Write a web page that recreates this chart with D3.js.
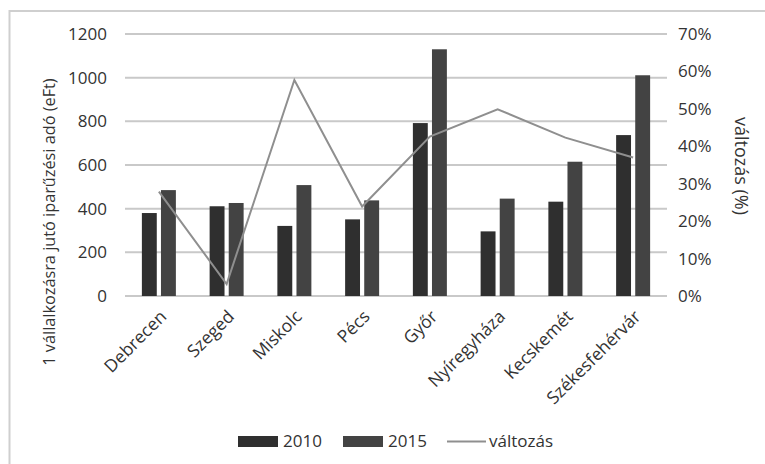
<!DOCTYPE html>
<html>
<head>
<meta charset="utf-8">
<script src="https://cdn.jsdelivr.net/npm/d3@7"></script>
<style>
  html, body { margin: 0; padding: 0; background: #fff; }
  svg { display: block; }
  text { font-family: "Open Sans", sans-serif; fill: #333333; }
</style>
</head>
<body>
<svg id="chart" width="765" height="464"></svg>
<script>
// Cities and per-enterprise local business tax (thousand HUF)
const cities = ["Debrecen", "Szeged", "Miskolc", "Pécs", "Győr", "Nyíregyháza", "Kecskemét", "Székesfehérvár"];
const years = ["2010", "2015"];
const values2010 = [380, 411, 321, 351, 792, 296, 432, 737];
const values2015 = [485, 426, 508, 438, 1130, 446, 615, 1011];
// Change between the two years (fraction)
const change = [0.279, 0.032, 0.577, 0.239, 0.426, 0.499, 0.423, 0.370];
const leftTicks = [0, 200, 400, 600, 800, 1000, 1200];
const rightTicks = [0, 0.1, 0.2, 0.3, 0.4, 0.5, 0.6, 0.7];

const colors = { "2010": "#2f2f2f", "2015": "#434343" };
const lineColor = "#8f8f8f";
const gridColor = "#c9c9c9";
const textColor = "#333333";
const fontSize = 17;
const catFontSize = 17.5;
const fontFamily = "'Open Sans', sans-serif";

const svg = d3.select("#chart");

// outer chart frame
svg.append("rect")
  .attr("x", 9.5).attr("y", 11)
  .attr("width", 800).attr("height", 500)
  .attr("fill", "none").attr("stroke", "#cfcfcf").attr("stroke-width", 2);

const plot = { left: 125, right: 667, top: 34, bottom: 296 };

const x0 = d3.scaleBand().domain(cities).range([plot.left, plot.right]).padding(0);
const yL = d3.scaleLinear().domain([0, 1200]).range([plot.bottom, plot.top]);
const yR = d3.scaleLinear().domain([0, 0.7]).range([plot.bottom, plot.top]);

// gridlines
svg.append("g")
  .selectAll("line")
  .data(leftTicks)
  .join("line")
  .attr("x1", plot.left).attr("x2", plot.right)
  .attr("y1", d => yL(d)).attr("y2", d => yL(d))
  .attr("stroke", gridColor).attr("stroke-width", 2);

function styleAxisText(sel, size) {
  sel.attr("font-size", null).attr("font-family", null);
  sel.selectAll("text")
    .style("font-size", size + "px")
    .style("font-family", fontFamily)
    .attr("fill", textColor);
}

// left axis
const leftAxis = svg.append("g")
  .attr("transform", `translate(${plot.left - 18},0)`)
  .call(d3.axisLeft(yL).tickValues(leftTicks).tickFormat(d3.format("d")).tickSize(0).tickPadding(0));
leftAxis.select(".domain").remove();
styleAxisText(leftAxis, fontSize);

// right axis
const rightAxis = svg.append("g")
  .attr("transform", `translate(${plot.right + 11},0)`)
  .call(d3.axisRight(yR).tickValues(rightTicks).tickFormat(d3.format(".0%")).tickSize(0).tickPadding(0));
rightAxis.select(".domain").remove();
styleAxisText(rightAxis, fontSize);

// grouped bars
const series = [values2010, values2015];
const groups = svg.append("g")
  .selectAll("g")
  .data(cities)
  .join("g");

groups.each(function (city, i) {
  const cx = x0(city) + x0.bandwidth() / 2;
  const x1 = d3.scaleBand().domain(years).range([cx - 17, cx + 17]).paddingInner(0.22);
  d3.select(this).selectAll("rect")
    .data(years.map((yr, k) => ({ yr, v: series[k][i] })))
    .join("rect")
    .attr("x", d => x1(d.yr))
    .attr("width", x1.bandwidth())
    .attr("y", d => yL(d.v))
    .attr("height", d => yL(0) - yL(d.v))
    .attr("fill", d => colors[d.yr]);
});

// change line (right axis)
const line = d3.line()
  .x((d, i) => x0(cities[i]) + x0.bandwidth() / 2)
  .y(d => yR(d));
svg.append("path")
  .datum(change)
  .attr("d", line)
  .attr("fill", "none")
  .attr("stroke", lineColor)
  .attr("stroke-width", 2);

// category labels, rotated
const xAxis = svg.append("g")
  .attr("transform", `translate(0,${plot.bottom})`)
  .call(d3.axisBottom(x0).tickSize(0).tickPadding(0));
xAxis.select(".domain").remove();
styleAxisText(xAxis, catFontSize);
xAxis.selectAll("text")
  .attr("text-anchor", "end")
  .attr("y", 0).attr("dy", "0.7em")
  .attr("transform", "translate(0,13) rotate(-45)");

// axis titles
svg.append("text")
  .attr("transform", "translate(49,222) rotate(-90)")
  .attr("text-anchor", "middle")
  .attr("dy", "0.35em")
  .style("font-size", "16.3px")
  .text("1 vállalkozásra jutó iparűzési adó (eFt)");

svg.append("text")
  .attr("transform", "translate(741,166) rotate(90)")
  .attr("text-anchor", "middle")
  .attr("dy", "0.35em")
  .style("font-size", (fontSize + 1) + "px")
  .text("változás (%)");

// legend
const legendY = 441.5;
const legend = svg.append("g");
const legendItems = [
  { label: "2010", type: "bar", color: colors["2010"], x: 238 },
  { label: "2015", type: "bar", color: colors["2015"], x: 343 },
  { label: "változás", type: "line", color: lineColor, x: 447 }
];
legendItems.forEach(item => {
  if (item.type === "bar") {
    legend.append("rect")
      .attr("x", item.x).attr("y", legendY - 5.5)
      .attr("width", 40).attr("height", 11)
      .attr("fill", item.color);
  } else {
    legend.append("line")
      .attr("x1", item.x).attr("x2", item.x + 39)
      .attr("y1", legendY).attr("y2", legendY)
      .attr("stroke", item.color).attr("stroke-width", 2);
  }
  legend.append("text")
    .attr("x", item.x + (item.type === "bar" ? 45 : 42))
    .attr("y", legendY)
    .attr("dy", "0.35em")
    .style("font-size", fontSize + "px")
    .text(item.label);
});
</script>
</body>
</html>
